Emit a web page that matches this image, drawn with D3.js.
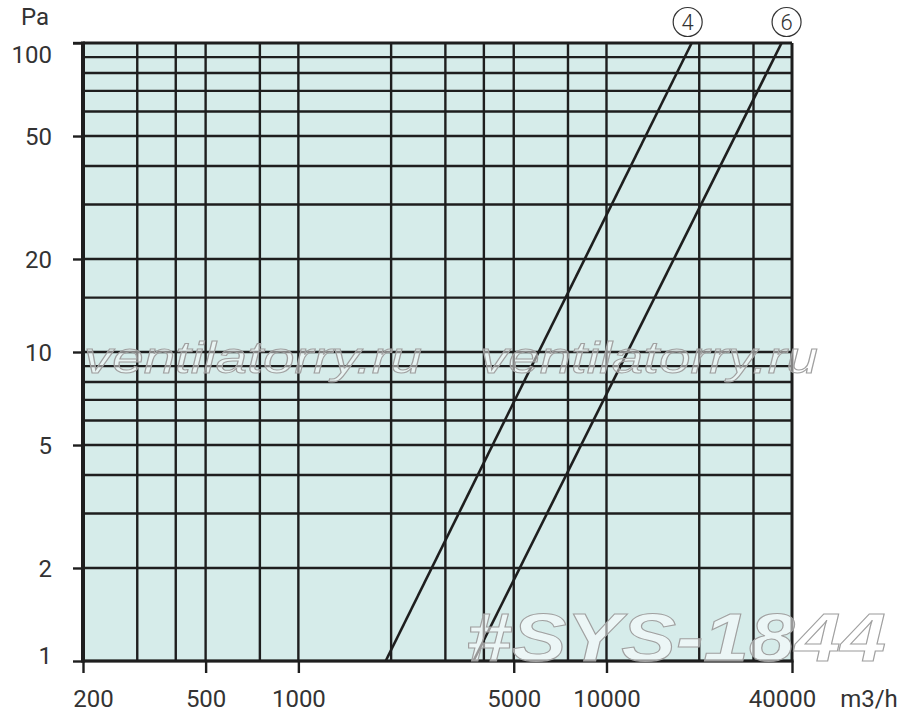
<!DOCTYPE html>
<html>
<head>
<meta charset="utf-8">
<script src="https://cdn.jsdelivr.net/npm/d3@7"></script>
<style>
	body { margin: 0; background: #fff; }
	svg { display: block; font-family: Roboto, "Liberation Sans", Arial, sans-serif; }
</style>
</head>
<body>
<svg id="chart"></svg>
<script>
// grid values (log-log paper)
var xGrid = [200, 300, 400, 500, 750, 1000, 2000, 3000, 4000, 5000, 7500, 10000, 20000, 30000, 40000];
var yGrid = [1, 2, 3, 4, 5, 6, 7, 8, 9, 10, 15, 20, 30, 40, 50, 60, 70, 80, 90, 100];
var xTicks = [200, 500, 1000, 5000, 10000, 40000];
var yTicks = [1, 2, 5, 10, 20, 50, 100];

// pressure drop curves, flow m3/h vs Pa
var curve4 = [{q: 1920, p: 1}, {q: 18900, p: 100}];
var curve6 = [{q: 3700, p: 1}, {q: 37000, p: 100}];
var curves = [{name: "4", pts: curve4}, {name: "6", pts: curve6}];

var width = 900, height = 718;
var mLeft = 83, mRight = 792, mTop = 43, mBottom = 661;

var svg = d3.select('#chart')
	.attr("width", width)
	.attr("height", height);

var x = d3.scaleLog().domain([200, 40000]).range([mLeft, mRight]);
var y = d3.scaleLog().domain([1, 100]).range([mBottom, mTop]);

var ink = "#1e1e1e";
var textInk = "#333";
var labelSize = 24;
var labelWeight = 400;
var labelFont = "Roboto, \"Liberation Sans\", Arial, sans-serif";

// plot background
svg.append("rect")
	.attr("x", mLeft).attr("y", mTop)
	.attr("width", mRight - mLeft).attr("height", mBottom - mTop)
	.attr("fill", "#d6ecea");

// grid
svg.append("g").selectAll("line")
	.data(xGrid)
	.enter().append("line")
	.attr("x1", function(d){ return x(d); })
	.attr("x2", function(d){ return x(d); })
	.attr("y1", mTop).attr("y2", mBottom)
	.attr("stroke", ink)
	.attr("stroke-width", function(d){ return d === 40000 ? 3 : 2.4; });

svg.append("g").selectAll("line")
	.data(yGrid)
	.enter().append("line")
	.attr("y1", function(d){ return y(d); })
	.attr("y2", function(d){ return y(d); })
	.attr("x1", mLeft).attr("x2", mRight)
	.attr("stroke", ink)
	.attr("stroke-width", function(d){ return d === 100 ? 3 : 2.4; });

// axes
var xAxis = svg.append("g")
	.attr("transform", "translate(0," + mBottom + ")")
	.call(d3.axisBottom(x).tickValues(xTicks).tickFormat(d3.format("d")).tickSize(12).tickSizeOuter(0));

var yAxis = svg.append("g")
	.attr("transform", "translate(" + mLeft + ",0)")
	.call(d3.axisLeft(y).tickValues(yTicks).tickFormat(d3.format("d")).tickSize(10).tickSizeOuter(0));

[xAxis, yAxis].forEach(function(g){
	g.select(".domain").remove();
	g.selectAll(".tick line").attr("stroke", ink).attr("stroke-width", 2.4);
	g.selectAll(".tick text")
		.attr("fill", textInk)
		.attr("font-size", labelSize)
		.attr("font-weight", labelWeight)
		.attr("font-family", labelFont);
});

// end labels are pulled inwards, as on the original sheet
xAxis.selectAll(".tick text")
	.attr("y", 46).attr("dy", 0)
	.attr("dx", function(d){
		if (d === 200) return 10;
		if (d === 40000) return -10;
		return 0;
	});
yAxis.selectAll(".tick text")
	.attr("x", -31)
	.attr("dy", function(d){
		if (d === 100) return "0.8em";
		if (d === 1) return "0.1em";
		return "0.36em";
	});

// axis lines on top of grid
svg.append("line")
	.attr("x1", mLeft).attr("x2", mLeft)
	.attr("y1", mTop - 1.5).attr("y2", mBottom + 1.5)
	.attr("stroke", ink).attr("stroke-width", 4);
svg.append("line")
	.attr("x1", mLeft).attr("x2", mRight + 1.5)
	.attr("y1", mBottom).attr("y2", mBottom)
	.attr("stroke", ink).attr("stroke-width", 3);
svg.append("line")
	.attr("x1", mLeft - 10).attr("x2", mLeft)
	.attr("y1", mTop).attr("y2", mTop)
	.attr("stroke", ink).attr("stroke-width", 2.4);

// axis titles
svg.append("text")
	.attr("x", 35).attr("y", 25)
	.attr("text-anchor", "middle")
	.attr("font-size", labelSize).attr("font-weight", labelWeight).attr("fill", textInk)
	.text("Pa");

svg.append("text")
	.attr("x", 869).attr("y", 707)
	.attr("text-anchor", "middle")
	.attr("font-size", labelSize).attr("font-weight", labelWeight).attr("fill", textInk)
	.text("m3/h");

// curves
var line = d3.line()
	.x(function(d){ return x(d.q); })
	.y(function(d){ return y(d.p); });

svg.append("g").selectAll("path")
	.data(curves)
	.enter().append("path")
	.attr("d", function(d){ return line(d.pts); })
	.attr("fill", "none")
	.attr("stroke", ink)
	.attr("stroke-width", 2.6);

// circled curve labels, sitting just above the top end of each line
var tags = svg.append("g").selectAll("g")
	.data(curves)
	.enter().append("g")
	.attr("transform", function(d){
		var last = d.pts[d.pts.length - 1];
		var nudge = d.name === "4" ? -4 : 5;
		return "translate(" + (x(last.q) + nudge) + ",22)";
	});
tags.append("circle")
	.attr("r", 14.5)
	.attr("fill", "#fff")
	.attr("stroke", "#333")
	.attr("stroke-width", 1.2);
tags.append("text")
	.attr("text-anchor", "middle")
	.attr("dy", "0.36em")
	.attr("font-size", 22)
	.attr("font-weight", 300)
	.attr("fill", textInk)
	.text(function(d){ return d.name; });

// watermarks
var marks = svg.append("g")
	.attr("fill", "rgba(255,255,255,0.45)")
	.attr("stroke", "#a0a0a0")
	.attr("stroke-width", 1)
	.attr("font-family", "\"Liberation Sans\", Arial, sans-serif")
	.attr("font-style", "italic");

[84, 480].forEach(function(px){
	marks.append("text")
		.attr("x", px).attr("y", 373)
		.attr("font-size", 44)
		.attr("textLength", 338)
		.attr("lengthAdjust", "spacingAndGlyphs")
		.text("ventilatorry.ru");
});

marks.append("text")
	.attr("x", 466).attr("y", 661)
	.attr("font-size", 68)
	.attr("font-weight", "bold")
	.attr("textLength", 420)
	.attr("lengthAdjust", "spacingAndGlyphs")
	.attr("fill", "rgba(255,255,255,0.55)")
	.text("#SYS-1844");
</script>
</body>
</html>
